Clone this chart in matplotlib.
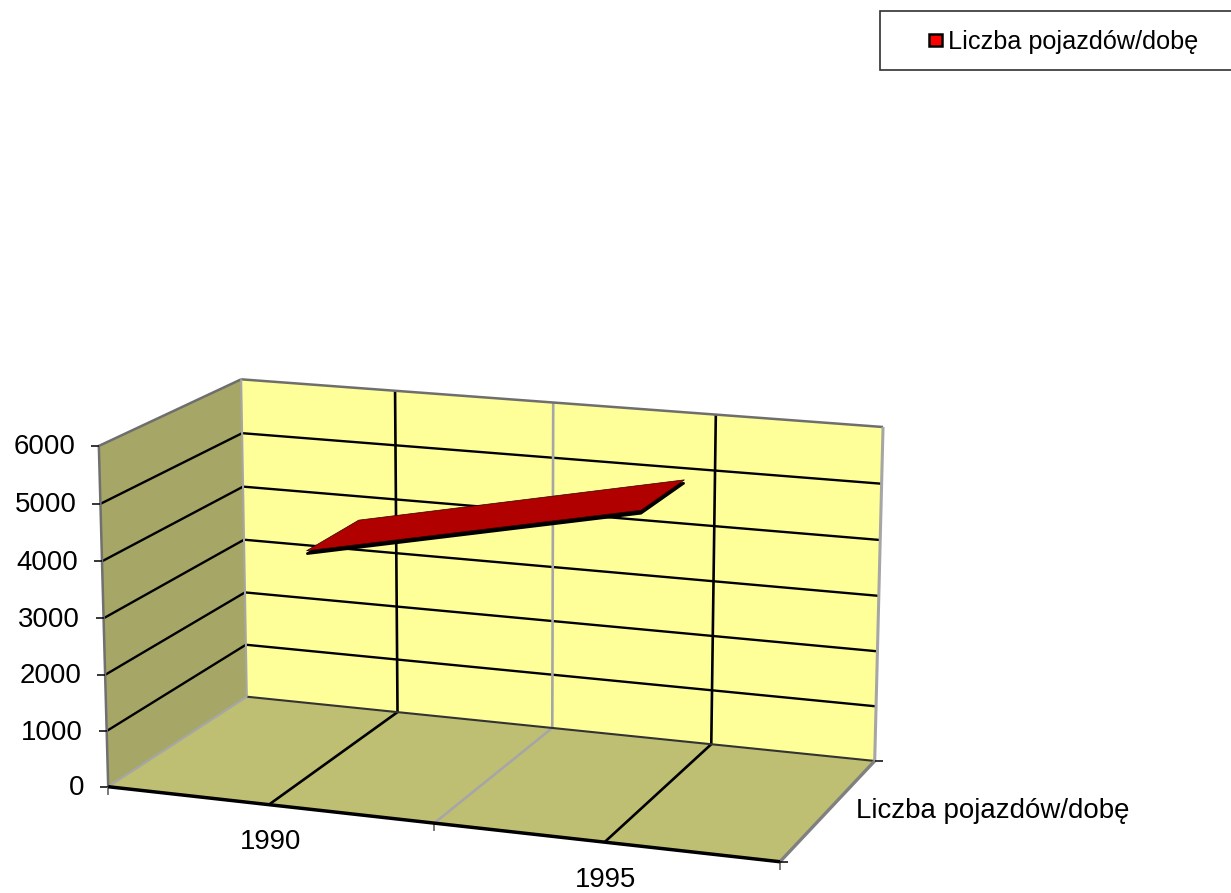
import numpy as np
import matplotlib
matplotlib.use("Agg")
import matplotlib.pyplot as plt
from matplotlib.patches import Polygon, Rectangle

plt.rcParams['font.family'] = ['Liberation Sans', 'DejaVu Sans']

# ---- data ----
categories = ['1990', '1995']
values = [4020, 5220]
series_name = 'Liczba pojazdów/dobę'
value_ticks = [0, 1000, 2000, 3000, 4000, 5000, 6000]
VMAX = 6000

# ---- camera calibration: box corners (u, v, w) -> picture pixels ----
box_3d = [(0, 0, 0), (0, 1, 0), (1, 0, 0), (0, 0, 1), (0, 1, 1), (1, 0, 1), (1, 1, 1)]
box_px = [(108.3, 786.7), (98.7, 446), (780, 861.7), (246.7, 696.7),
          (241.3, 379.3), (874.7, 761), (883, 427)]
A, b = [], []
for (u, v, w), (x, y) in zip(box_3d, box_px):
    A.append([u, v, w, 1, 0, 0, 0, 0, -x*u, -x*v, -x*w]); b.append(x)
    A.append([0, 0, 0, 0, u, v, w, 1, -y*u, -y*v, -y*w]); b.append(y)
m = np.linalg.lstsq(np.array(A), np.array(b), rcond=None)[0]
P = np.append(m, 1).reshape(3, 4)


def pr(u, val, w):
    h = P @ np.array([u, val / VMAX, w, 1.0])
    return (h[0] / h[2], h[1] / h[2])


W, H = 1231, 893
fig = plt.figure(figsize=(W / 100, H / 100), dpi=100)
ax = fig.add_axes([0, 0, 1, 1])
ax.set_xlim(0, W)
ax.set_ylim(H, 0)
ax.axis('off')

FS = 19.9
FS_LEG = 18.2
WALL, SIDE, FLOOR = '#FFFF99', '#A6A666', '#BFBF73'
GRID, GRAY, DGRAY = '#000000', '#A6A6A6', '#6E6E6E'


def face(pts, c):
    ax.add_patch(Polygon(pts, closed=True, fc=c, ec='none', zorder=1))


def seg(a, b_, c=GRID, lw=1.7, z=2):
    ax.plot([a[0], b_[0]], [a[1], b_[1]], color=c, lw=lw, zorder=z, solid_capstyle='butt')


# walls and floor
face([pr(0, 0, 1), pr(1, 0, 1), pr(1, VMAX, 1), pr(0, VMAX, 1)], WALL)
face([pr(0, 0, 0), pr(0, 0, 1), pr(0, VMAX, 1), pr(0, VMAX, 0)], SIDE)
face([pr(0, 0, 0), pr(1, 0, 0), pr(1, 0, 1), pr(0, 0, 1)], FLOOR)

# value gridlines
for t in value_ticks[1:-1]:
    seg(pr(0, t, 0), pr(0, t, 1))
    seg(pr(0, t, 1), pr(1, t, 1))

# category gridlines: at category centres and boundaries
n = len(categories)
for i in range(1, 2 * n):
    u = i / (2 * n)
    col = GRAY if i % 2 == 0 else GRID
    seg(pr(u, VMAX, 1), pr(u, 0, 1), col, 1.9)
    seg(pr(u, 0, 1), pr(u, 0, 0), col, 1.9)

# box edges
seg(pr(0, 0, 1), pr(1, 0, 1), '#333333', 1.5)
seg(pr(0, VMAX, 1), pr(1, VMAX, 1), DGRAY, 1.8)
seg(pr(0, VMAX, 0), pr(0, VMAX, 1), DGRAY, 1.8)
seg(pr(0, 0, 1), pr(0, VMAX, 1), GRAY, 1.5)
seg(pr(1, 0, 1), pr(1, VMAX, 1), GRAY, 2.2)
seg(pr(0, 0, 0), pr(0, 0, 1), GRAY, 1.6)
seg(pr(0, 0, 0), pr(0, VMAX, 0), '#707070', 1.8)
seg(pr(1, 0, 0), pr(1, 0, 1), '#808080', 2.4)
seg(pr(0, 0, 0), pr(1, 0, 0), '#000000', 2.5, 3)

# value axis ticks and labels
for t in value_ticks:
    x, y = pr(0, t, 0)
    seg((x - 8, y), (x, y), '#000000', 1.1)
    ax.text(x - 23.5, y + 1.5, str(t), ha='right', va='center', fontsize=FS, color='black')

# category ticks and labels
for i in range(0, n + 1):
    x, y = pr(i / n, 0, 0)
    seg((x, y), (x, y + 8), '#707070', 1.3)
for i, c in enumerate(categories):
    x, y = pr((i + 0.5) / n, 0, 0)
    ax.text(x + 1.2, y + 37.5, c, ha='center', va='center', fontsize=FS, color='black')

# depth ticks and label
x, y = pr(1, 0, 1)
seg((x, y), (x + 8, y), '#000000', 1.1)
x, y = pr(1, 0, 0)
seg((x, y), (x + 8, y), '#000000', 1.1)
ax.text(856, 811.5, series_name, ha='left', va='center', fontsize=FS, color='black')

# line ribbon
W1, W2 = 0.30, 0.70
THICK = 55
us = [(i + 0.5) / n for i in range(n)]
top = [pr(us[0], values[0], W1), pr(us[0], values[0], W2),
       pr(us[1], values[1], W2), pr(us[1], values[1], W1)]
low = [pr(us[0], values[0] - THICK, W1), pr(us[0], values[0] - THICK, W2),
       pr(us[1], values[1] - THICK, W2), pr(us[1], values[1] - THICK, W1)]
ax.add_patch(Polygon(low, closed=True, fc='black', ec='black', lw=1.6, zorder=4))
ax.add_patch(Polygon(top, closed=True, fc='#B00000', ec='#300000', lw=0.5, zorder=5))

# legend
ax.add_patch(Rectangle((880, 11), 360, 59, fc='white', ec='#303030', lw=1.2, zorder=6))
ax.add_patch(Rectangle((929, 34), 13, 12, fc='#FF0000', ec='black', lw=1.8, zorder=7))
ax.text(947.5, 41.5, series_name, ha='left', va='center', fontsize=FS_LEG, color='black', zorder=7)

fig.savefig('out.png', dpi=100)
